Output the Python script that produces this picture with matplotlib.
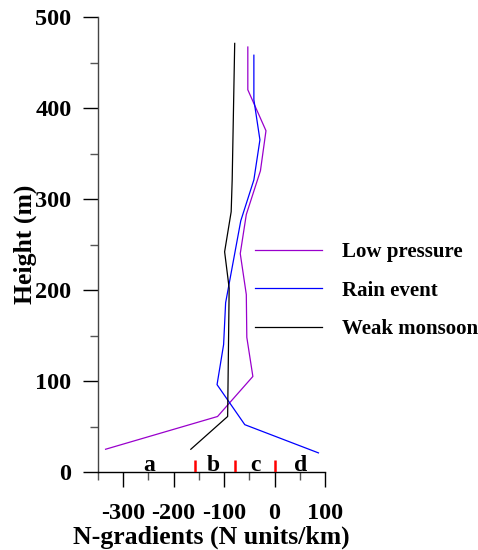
import matplotlib
matplotlib.use("Agg")
import matplotlib.pyplot as plt
from matplotlib.ticker import MultipleLocator

plt.rcParams['font.family'] = ['Liberation Serif', 'DejaVu Serif']
plt.rcParams['font.weight'] = 'bold'
plt.rcParams['axes.unicode_minus'] = False

# N-gradient profiles (N units/km) against height (m)
low_x = [-53, -53, -17, -28, -56, -68, -56, -55, -43, -113, -335]
low_h = [467, 420, 375, 331, 283, 240, 195, 148, 105, 61, 25]

rain_x = [-41, -41, -29, -41, -67, -97, -101, -114, -59, 87]
rain_h = [458, 409, 365, 321, 276, 186, 140, 96, 52, 21]

weak_x = [-79, -84, -86, -99, -90, -93, -166]
weak_h = [471, 321, 286, 242, 202, 61, 25]

# refraction class limits and labels
limits = [-157, -79, 0]
zone_x = [-248, -121, -38, 51]
zone_lbl = ['a', 'b', 'c', 'd']

fig = plt.figure(figsize=(4.78, 5.5), dpi=100)
ax = fig.add_axes([98 / 478, 1 - 472 / 550, 227 / 478, 455 / 550])

ax.plot(low_x, low_h, color='#9900CC', lw=0.9, label='Low pressure')
ax.plot(rain_x, rain_h, color='#0000FF', lw=0.9, label='Rain event')
ax.plot(weak_x, weak_h, color='black', lw=0.9, label='Weak monsoon')

ax.vlines(limits, 0, 13, colors='red', lw=1.8, zorder=3)
for x, t in zip(zone_x, zone_lbl):
    ax.text(x, 1, t, ha='center', va='baseline', fontsize=17, fontweight='bold')

ax.set_xlim(-350, 100)
ax.set_ylim(0, 500)
ax.xaxis.set_major_locator(MultipleLocator(100))
ax.xaxis.set_minor_locator(MultipleLocator(50))
ax.yaxis.set_major_locator(MultipleLocator(100))
ax.yaxis.set_minor_locator(MultipleLocator(50))

for s in ['top', 'right']:
    ax.spines[s].set_visible(False)
for s in ['left', 'bottom']:
    ax.spines[s].set_linewidth(1.0)
ax.spines['left'].set_color('#444444')

ax.tick_params(axis='both', which='major', length=11, width=1.0, labelsize=17.5)
ax.tick_params(axis='both', which='minor', length=6, width=1.0, color='#555555')
ax.tick_params(axis='x', which='major', pad=11)
ax.tick_params(axis='y', which='major', pad=8)

ax.set_xlabel('N-gradients (N units/km)', fontsize=18.5, fontweight='bold')
ax.set_ylabel('Height (m)', fontsize=18.5, fontweight='bold')
ax.xaxis.set_label_coords(0.5, -0.117)
ax.yaxis.set_label_coords(-0.27, 0.5)

ax.legend(loc='upper left', bbox_to_anchor=(255 / 478, 1 - 242 / 550),
          bbox_transform=fig.transFigure, frameon=False,
          handlelength=3.2, handletextpad=1.0, labelspacing=0.9,
          borderpad=0, borderaxespad=0,
          prop={'weight': 'bold', 'size': 15})

fig.savefig('out.png', dpi=100)
